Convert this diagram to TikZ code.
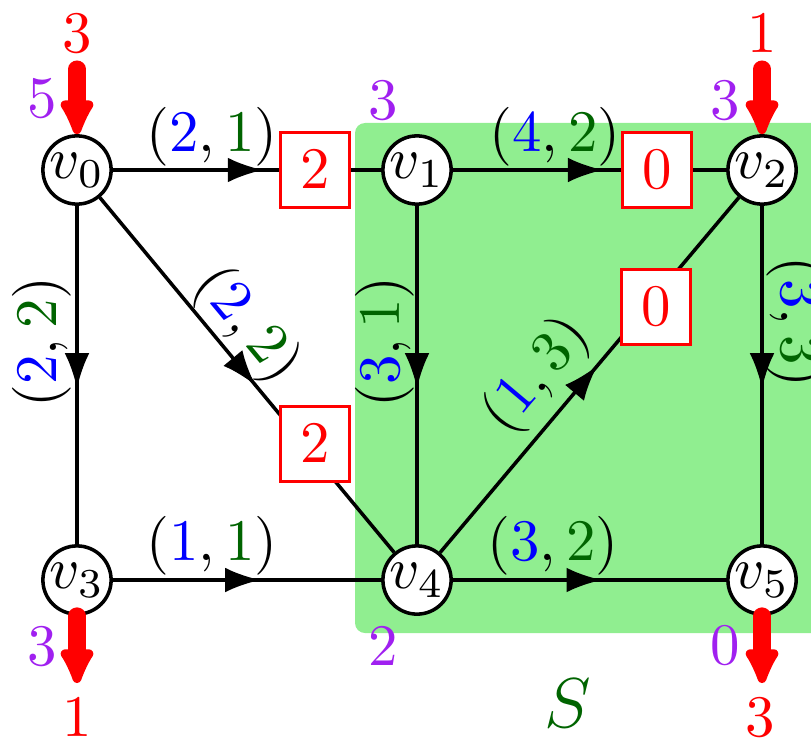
\documentclass[tikz,border=0pt]{standalone}
\usetikzlibrary{arrows.meta,calc,decorations.markings}
\definecolor{lgreen}{HTML}{90EE90}
\definecolor{dgreen}{RGB}{0,100,0}
\definecolor{vpurple}{HTML}{A020F0}
\begin{document}
\begin{tikzpicture}[x=0.17pt,y=0.17pt,
  vert/.style={circle,draw,line width=0.6pt,fill=white,minimum size=11.6pt,inner sep=0pt},
  rbox/.style={draw=red,line width=0.45pt,fill=white,text=red,minimum width=11.7pt,minimum height=12.7pt,inner sep=0pt},
  flow/.style={line width=0.6pt,postaction={decorate},
    decoration={markings,mark=at position #1 with {\arrow{Latex[length=6pt,width=4.2pt]}}}},
  flow/.default=0.55,
  inarr/.style={red,line width=2.9pt,line cap=round,-{Latex[length=7.5pt,width=7pt,round]}},
  lab/.style={inner sep=0pt},
  supply/.style={text=red,inner sep=0pt},
  pot/.style={text=vpurple,inner sep=0pt}]
\clip (0,0) rectangle (811,739);
% region S
\fill[lgreen,rounded corners=1.7pt] (355,106) rectangle (900,616);
% vertices
\node[vert] (v0) at (77,569) {$v_0$};
\node[vert] (v1) at (417,569) {$v_1$};
\node[vert] (v2) at (762,569) {$v_2$};
\node[vert] (v3) at (77,159) {$v_3$};
\node[vert] (v4) at (417,159) {$v_4$};
\node[vert] (v5) at (762,159) {$v_5$};
% edges
\draw[flow=0.56] (v0) -- (v1);
\draw[flow=0.55] (v1) -- (v2);
\draw[flow=0.54] (v0) -- (v3);
\draw[flow=0.54] (v1) -- (v4);
\draw[flow=0.54] (v2) -- (v5);
\draw[flow=0.55] (v3) -- (v4);
\draw[flow=0.545] (v4) -- (v5);
\draw[flow=0.53] (v0) -- (v4);
\draw[flow=0.527] (v4) -- (v2);
% boxes on edges
\node[rbox] (b01) at (315,569) {$2$};
\node[rbox] (b12) at (657,569) {$0$};
\node[rbox] (b04) at (315,295) {$2$};
\node[rbox] (b42) at (656,432) {$0$};
% edge labels
\node[lab] (l01) at (212,602) {$(\textcolor{blue}{2},\textcolor{dgreen}{1})$};
\node[lab] (l12) at (555,602) {$(\textcolor{blue}{4},\textcolor{dgreen}{2})$};
\node[lab] (l34) at (212,193) {$(\textcolor{blue}{1},\textcolor{dgreen}{1})$};
\node[lab] (l45) at (553,193) {$(\textcolor{blue}{3},\textcolor{dgreen}{2})$};
\node[lab,rotate=90] (l03) at (42,397) {$(\textcolor{blue}{2},\textcolor{dgreen}{2})$};
\node[lab,rotate=90] (l14) at (385,397) {$(\textcolor{blue}{3},\textcolor{dgreen}{1})$};
\node[lab,rotate=-90] (l25) at (796,417) {$(\textcolor{blue}{3},\textcolor{dgreen}{3})$};
\node[lab,rotate=-50.3] (l04) at (247,414) {$(\textcolor{blue}{2},\textcolor{dgreen}{2})$};
\node[lab,rotate=49.9] (l42) at (537,363) {$(\textcolor{blue}{1},\textcolor{dgreen}{3})$};
% supplies / demands
\coordinate (s0) at (77,670);
\coordinate (s2) at (762,670);
\coordinate (t3) at (77,56);
\coordinate (t5) at (762,56);
\draw[inarr] (s0) -- (v0);
\draw[inarr] (s2) -- (v2);
\draw[inarr] (v3) -- (t3);
\draw[inarr] (v5) -- (t5);
\node[supply] (n0) at (77,705) {$3$};
\node[supply] (n2) at (762,705) {$1$};
\node[supply] (n3) at (77,21) {$1$};
\node[supply] (n5) at (760,21) {$3$};
% potentials
\node[pot] (p0) at (42,640) {$5$};
\node[pot] (p1) at (383,638) {$3$};
\node[pot] (p2) at (725,638) {$3$};
\node[pot] (p3) at (42,92) {$3$};
\node[pot] (p4) at (383,92) {$2$};
\node[pot] (p5) at (725,93) {$0$};
% set label
\node[text=dgreen] (S) at (568,36) {\large $S$};
\end{tikzpicture}
\end{document}
